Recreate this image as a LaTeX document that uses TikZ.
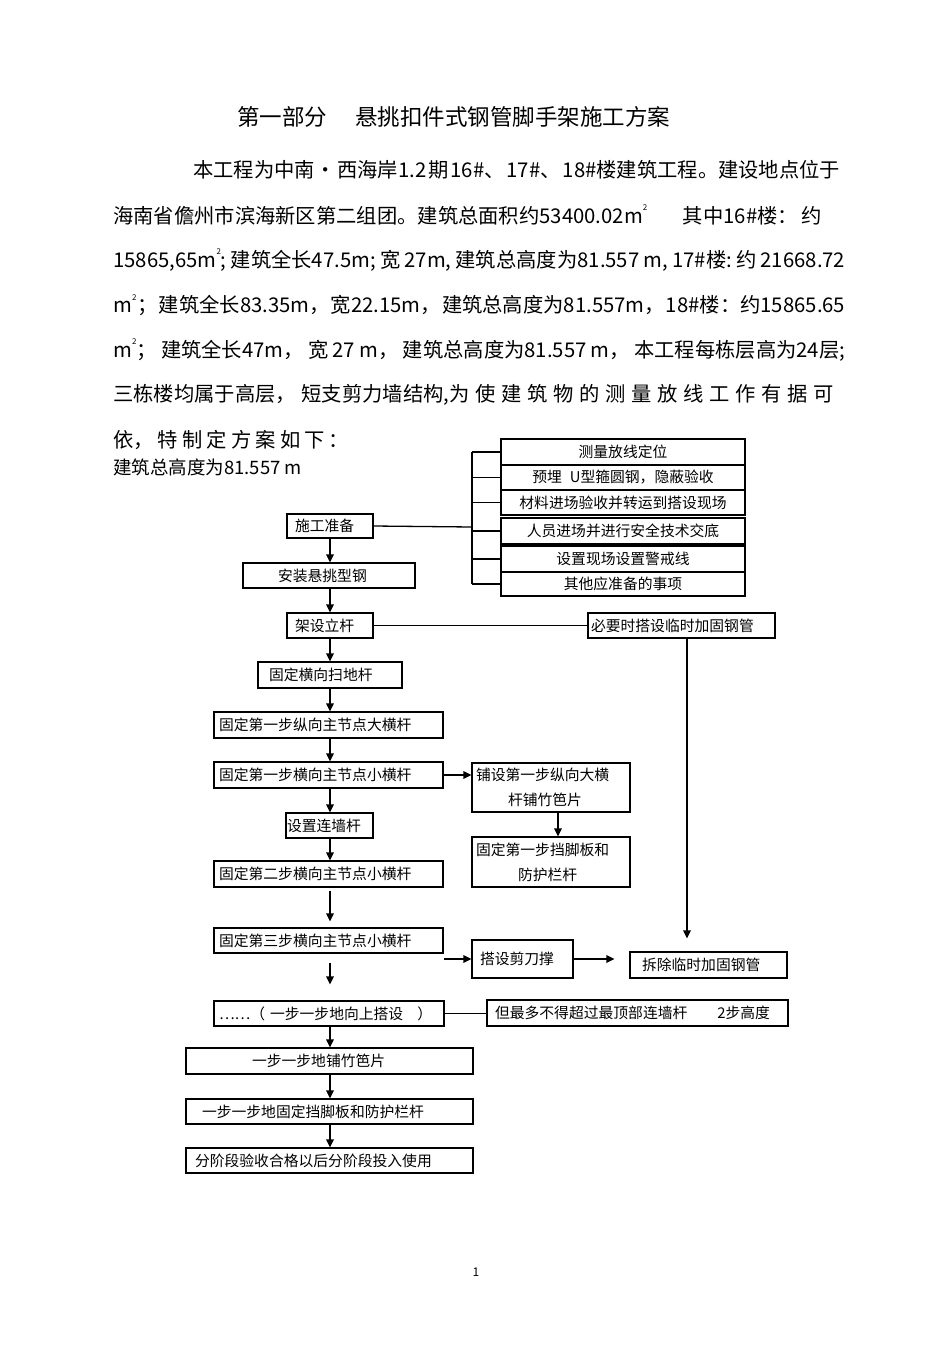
\documentclass[tikz,border=0pt]{standalone}
\usepackage{fontspec}
\setmainfont{Noto Sans CJK SC}
\usetikzlibrary{arrows.meta}
\newcommand{\flowfont}{\fontsize{14.8}{25}\selectfont}
\newcommand{\bodyfont}{\fontsize{20.3}{24}\selectfont}
\newcommand{\titlefont}{\fontsize{22.5}{26}\selectfont}
\newcommand{\sqm}{m\raisebox{0.6em}{\fontsize{8}{8}\selectfont 2}}

\begin{document}
\begin{tikzpicture}[x=1pt,y=-1pt,
  blk/.style={draw,line width=1.1pt,inner ysep=0pt,align=left,font=\flowfont},
  grp/.style={blk,align=center,text width=236pt,inner xsep=4pt},
  arrow/.style={-{Triangle[length=8pt,width=7.5pt]},line width=1.5pt},
  link/.style={line width=1.3pt},
  textline/.style={anchor=west,inner sep=0pt,font=\bodyfont}
]
  \useasboundingbox (0,0) rectangle (950,1346);

  \node[textline,font=\titlefont] (title) at (237,117) {第一部分\hspace{28pt}悬挑扣件式钢管脚手架施工方案};
  \node[textline] (para1) at (193,170) {\hbox to 647pt{本工程为中南·\hfill 西海岸1.2\hfill 期\hfill 16\#、\hfill 17\#、\hfill 18\#楼建筑工程。建设地点位于}};
  \node[textline] (para2) at (113,215) {\hbox to 709pt{海南省儋州市滨海新区第二组团。建筑总面积约53400.02\sqm\hfill 其中16\#楼：\hspace{4pt}约}};
  \node[textline] (para3) at (113,260) {\hbox to 732pt{15865,65\sqm;\hfill 建筑全长47.5m;\hfill 宽\hfill 27m,\hfill 建筑总高度为81.557\hfill m,\hfill 17\#楼:\hfill 约\hfill 21668.72}};
  \node[textline] (para4) at (113,305) {\hbox to 732pt{\sqm\hfill ；\hfill 建筑全长83.35m，\hfill 宽22.15m，\hfill 建筑总高度为81.557m，\hfill 18\#楼：约15865.65}};
  \node[textline] (para5) at (113,350) {\hbox to 732pt{\sqm；\hfill 建筑全长47m，\hfill 宽\hfill 27\hfill m，\hfill 建筑总高度为81.557\hfill m，\hfill 本工程每栋层高为24层;}};
  \node[textline] (para6) at (113,395) {\hbox to 721pt{三栋楼均属于高层，\hfill 短支剪力墙结构,为\hfill 使\hfill 建\hfill 筑\hfill 物\hfill 的\hfill 测\hfill 量\hfill 放\hfill 线\hfill 工\hfill 作\hfill 有\hfill 据\hfill 可}};
  \node[textline] (para7) at (113,440) {\hbox to 236pt{依，\hfill 特\hfill 制\hfill 定\hfill 方\hfill 案\hfill 如\hfill 下\hfill ：}};
  \node[textline,font=\fontsize{18.5}{20}\selectfont] (note) at (113,467) {建筑总高度为81.557 m};

  \node[blk,text width=70pt,inner xsep=8pt,minimum height=24pt] (prep) at (330,526) {施工准备};
  \node[blk,text width=102pt,inner xsep=35pt,minimum height=25pt] (steel) at (329,575.5) {安装悬挑型钢};
  \node[blk,text width=70pt,inner xsep=8pt,minimum height=25pt] (upright) at (330,625.5) {架设立杆};
  \node[blk,text width=122pt,inner xsep=11pt,minimum height=26pt] (sweep) at (330,675) {固定横向扫地杆};
  \node[blk,text width=219pt,inner xsep=5pt,minimum height=26pt] (big1) at (328.5,725) {固定第一步纵向主节点大横杆};
  \node[blk,text width=219pt,inner xsep=5pt,minimum height=26pt] (small1) at (328.5,775) {固定第一步横向主节点小横杆};
  \node[blk,text width=85pt,inner xsep=1pt,minimum height=25pt] (tie) at (329.5,825.5) {设置连墙杆};
  \node[blk,text width=219pt,inner xsep=5pt,minimum height=26pt] (small2) at (328.5,874) {固定第二步横向主节点小横杆};
  \node[blk,text width=219pt,inner xsep=5pt,minimum height=25pt] (small3) at (328.5,940.5) {固定第三步横向主节点小横杆};
  \node[blk,text width=220pt,inner xsep=5pt,minimum height=25pt] (up) at (329,1013.5) {……（ 一步一步地向上搭设\hspace{14pt}）};
  \node[blk,text width=155pt,inner xsep=66pt,minimum height=26pt] (mat) at (329.5,1061) {一步一步地铺竹笆片};
  \node[blk,text width=255pt,inner xsep=16pt,minimum height=25pt] (toe) at (329.5,1111.5) {一步一步地固定挡脚板和防护栏杆};
  \node[blk,text width=269pt,inner xsep=9pt,minimum height=25pt] (accept) at (329.5,1160.5) {分阶段验收合格以后分阶段投入使用};

  \node[grp,minimum height=26pt] (r1) at (623,452) {测量放线定位};
  \node[grp,minimum height=25pt] (r2) at (623,477.5) {预埋\hspace{8pt}U型箍圆钢，隐蔽验收};
  \node[grp,minimum height=25pt] (r3) at (623,502.5) {材料进场验收并转运到搭设现场};
  \node[grp,minimum height=26pt] (r4) at (623,531) {人员进场并进行安全技术交底};
  \node[grp,minimum height=26pt] (r5) at (623,559) {设置现场设置警戒线};
  \node[grp,minimum height=24pt] (r6) at (623,584) {其他应准备的事项};
  \coordinate (brk) at (472,527);

  \node[blk,text width=181pt,inner xsep=3pt,minimum height=25pt] (temp) at (681.5,625.5) {必要时搭设临时加固钢管};
  \node[blk,text width=150pt,inner xsep=4pt,minimum height=49pt] (lay) at (551,787.5) {铺设第一步纵向大横\\\hspace*{32pt}杆铺竹笆片};
  \node[blk,text width=150pt,inner xsep=4pt,minimum height=50pt] (guard) at (551,862) {固定第一步挡脚板和\\\hspace*{42pt}防护栏杆};
  \node[blk,text width=85pt,inner xsep=8pt,minimum height=38pt] (brace) at (522.5,959) {搭设剪刀撑};
  \node[blk,text width=133pt,inner xsep=12pt,minimum height=26pt] (remove) at (708.5,965) {拆除临时加固钢管};
  \node[blk,text width=285pt,inner xsep=8pt,minimum height=26pt] (limit) at (637.5,1013) {但最多不得超过最顶部连墙杆\hspace{30pt}2步高度};

  \node[inner sep=0pt,font=\fontsize{12}{14}\selectfont] (pg) at (476,1272) {1};

  \draw[link] (prep.east) -- (brk);
  \draw[link] (r1.west -| brk) -- (r6.west -| brk);
  \draw[link] (r1.west) -- (r1.west -| brk);
  \draw[link] (r2.west) -- (r2.west -| brk);
  \draw[link] (r3.west) -- (r3.west -| brk);
  \draw[link] (r4.west) -- (r4.west -| brk);
  \draw[link] (r5.west) -- (r5.west -| brk);
  \draw[link] (r6.west) -- (r6.west -| brk);

  \draw[arrow] (prep.south) -- (prep.south |- steel.north);
  \draw[arrow] (prep.south |- steel.south) -- (prep.south |- upright.north);
  \draw[arrow] (upright.south) -- (upright.south |- sweep.north);
  \draw[arrow] (upright.south |- sweep.south) -- (upright.south |- big1.north);
  \draw[arrow] (upright.south |- big1.south) -- (upright.south |- small1.north);
  \draw[arrow] (upright.south |- small1.south) -- (upright.south |- tie.north);
  \draw[arrow] (upright.south |- tie.south) -- (upright.south |- small2.north);
  \draw[arrow,shorten <=3pt,shorten >=6pt] (upright.south |- small2.south) -- (upright.south |- small3.north);
  \draw[arrow,shorten <=9pt,shorten >=16pt] (upright.south |- small3.south) -- (upright.south |- up.north);
  \draw[arrow] (upright.south |- up.south) -- (upright.south |- mat.north);
  \draw[arrow] (upright.south |- mat.south) -- (upright.south |- toe.north);
  \draw[arrow] (upright.south |- toe.south) -- (upright.south |- accept.north);

  \draw[link] (upright.east) -- (temp.west);
  \draw[arrow,shorten >=13pt] ([xshift=5.5pt]temp.south) -- ([xshift=5.5pt]temp.south |- remove.north);
  \draw[arrow] (small1.east) -- (small1.east -| lay.west);
  \draw[arrow] ([xshift=7pt]lay.south) -- ([xshift=7pt]lay.south |- guard.north);
  \draw[arrow] (small3.south east |- brace.west) -- (brace.west);
  \draw[arrow,shorten >=15pt] (brace.east) -- (brace.east -| remove.west);
  \draw[link] (up.east) -- (up.east -| limit.west);
\end{tikzpicture}
\end{document}
